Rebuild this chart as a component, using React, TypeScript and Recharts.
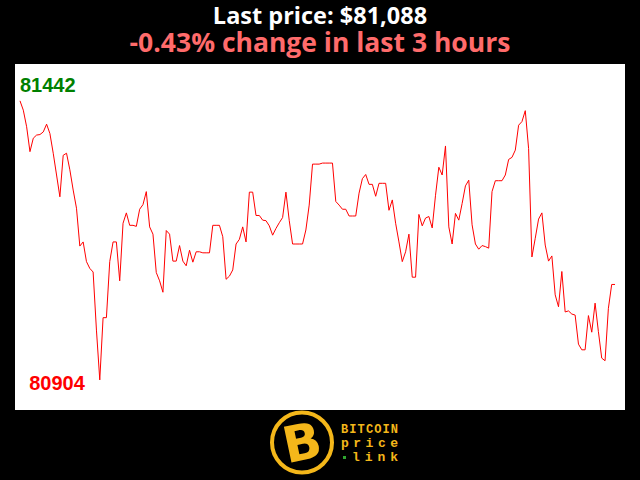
import React from "react";
import { LineChart, Line, XAxis, YAxis } from "recharts";

const titleText = "Last price: $81,088";
const subtitleText = "-0.43% change in last 3 hours";

// minute index (0..179) over the last 3 hours
const minutes: number[] = Array.from({ length: 180 }, (_, i) => i);

// BTC price (USD), one value per minute
const prices: number[] = [
  81442, 81424, 81392, 81344, 81370, 81376, 81377, 81382, 81397, 81379,
  81341, 81299, 81257, 81337, 81341, 81309, 81270, 81235, 81162, 81170,
  81132, 81119, 81112, 81000, 80904, 81024, 81024, 81132, 81170, 81170,
  81095, 81206, 81226, 81202, 81202, 81200, 81233, 81242, 81267, 81199,
  81185, 81111, 81095, 81073, 81192, 81185, 81133, 81133, 81163, 81133,
  81124, 81154, 81131, 81151, 81151, 81149, 81149, 81149, 81202, 81202,
  81202, 81180, 81098, 81104, 81116, 81166, 81175, 81199, 81170, 81266,
  81266, 81221, 81221, 81212, 81211, 81201, 81183, 81196, 81207, 81217,
  81266, 81211, 81166, 81166, 81166, 81166, 81193, 81241, 81320, 81320,
  81320, 81322, 81322, 81322, 81322, 81248, 81241, 81233, 81233, 81220,
  81220, 81220, 81264, 81292, 81300, 81281, 81281, 81258, 81283, 81283,
  81283, 81231, 81251, 81206, 81170, 81132, 81151, 81185, 81102, 81102,
  81223, 81201, 81216, 81219, 81197, 81260, 81314, 81299, 81355, 81199,
  81166, 81225, 81212, 81244, 81278, 81289, 81203, 81166, 81156, 81163,
  81161, 81158, 81267, 81288, 81288, 81288, 81299, 81329, 81333, 81347,
  81395, 81402, 81423, 81350, 81141, 81177, 81214, 81226, 81164, 81133,
  81143, 81068, 81045, 81113, 81035, 81037, 81031, 81029, 80973, 80962,
  80962, 81028, 80996, 81052, 80997, 80946, 80941, 81042, 81088, 81088,
];

const logoWords: string[] = ["BITCOIN", "price", "link"];

const data = minutes.map((t, i) => ({ t, price: prices[i] }));

const maxVal = Math.max(...prices);
const minVal = Math.min(...prices);
const maxIdx = prices.indexOf(maxVal);
const minIdx = prices.indexOf(minVal);

const ExtremeLabel = (props: any) => {
  const { x, y, index, value } = props;
  if (index === maxIdx) {
    return (
      <text
        x={x}
        y={y - 9}
        textAnchor="start"
        fill="#008000"
        fontFamily="'Liberation Sans', Arial, sans-serif"
        fontWeight="bold"
        fontSize={20}
      >
        {value}
      </text>
    );
  }
  if (index === minIdx) {
    return (
      <text
        x={x - 15}
        y={y + 10}
        textAnchor="end"
        fill="#ff0000"
        fontFamily="'Liberation Sans', Arial, sans-serif"
        fontWeight="bold"
        fontSize={20}
      >
        {value}
      </text>
    );
  }
  return null;
};

const gold = "#f4b71a";

const headStyle: React.CSSProperties = {
  position: "absolute",
  left: 0,
  width: 640,
  textAlign: "center",
  fontFamily: "'Open Sans', Lato, sans-serif",
  fontWeight: 700,
  whiteSpace: "nowrap",
  overflow: "visible",
};

export default function App() {
  return (
    <div
      style={{
        position: "absolute",
        left: 0,
        top: 0,
        width: 640,
        height: 480,
        background: "#000",
        overflow: "hidden",
      }}
    >
      <div style={{ ...headStyle, top: 2, height: 27, lineHeight: "27px", fontSize: 23.5, color: "#ffffff" }}>
        {titleText}
      </div>
      <div style={{ ...headStyle, top: 29, height: 26, lineHeight: "26px", fontSize: 26.5, color: "#ff6b6b" }}>
        {subtitleText}
      </div>
      <div style={{ position: "absolute", left: 15, top: 64, width: 610, height: 346, background: "#fff" }}>
        <LineChart width={610} height={346} data={data} margin={{ top: 0, right: 0, bottom: 0, left: 0 }}>
          <XAxis dataKey="t" type="number" domain={[-1.5, 182]} allowDataOverflow hide />
          <YAxis type="number" domain={[80846, 81513]} allowDataOverflow hide />
          <Line
            type="linear"
            dataKey="price"
            stroke="#ff0000"
            strokeWidth={1}
            dot={false}
            activeDot={false}
            isAnimationActive={false}
            label={<ExtremeLabel />}
          />
        </LineChart>
      </div>
      <svg width={640} height={70} style={{ position: "absolute", left: 0, top: 410 }}>
        <circle cx={302} cy={32.5} r={30} fill="#000" stroke={gold} strokeWidth={4} />
        <text
          x={302}
          y={50}
          textAnchor="middle"
          fill={gold}
          fontFamily="'DejaVu Sans', sans-serif"
          fontWeight="bold"
          fontSize={50}
          transform="rotate(-12 302 32)"
        >
          B
        </text>
        <text x={341} y={23} fill={gold} fontFamily="'Liberation Mono', monospace" fontWeight="bold" fontSize={12} textLength={57} lengthAdjust="spacing">
          {logoWords[0]}
        </text>
        <text x={341} y={37} fill={gold} fontFamily="'Liberation Mono', monospace" fontWeight="bold" fontSize={13} textLength={57} lengthAdjust="spacing">
          {logoWords[1]}
        </text>
        <rect x={343} y={46} width={3} height={3} fill="#2fa52f" />
        <text x={352} y={51} fill={gold} fontFamily="'Liberation Mono', monospace" fontWeight="bold" fontSize={13} textLength={46} lengthAdjust="spacing">
          {logoWords[2]}
        </text>
      </svg>
    </div>
  );
}
